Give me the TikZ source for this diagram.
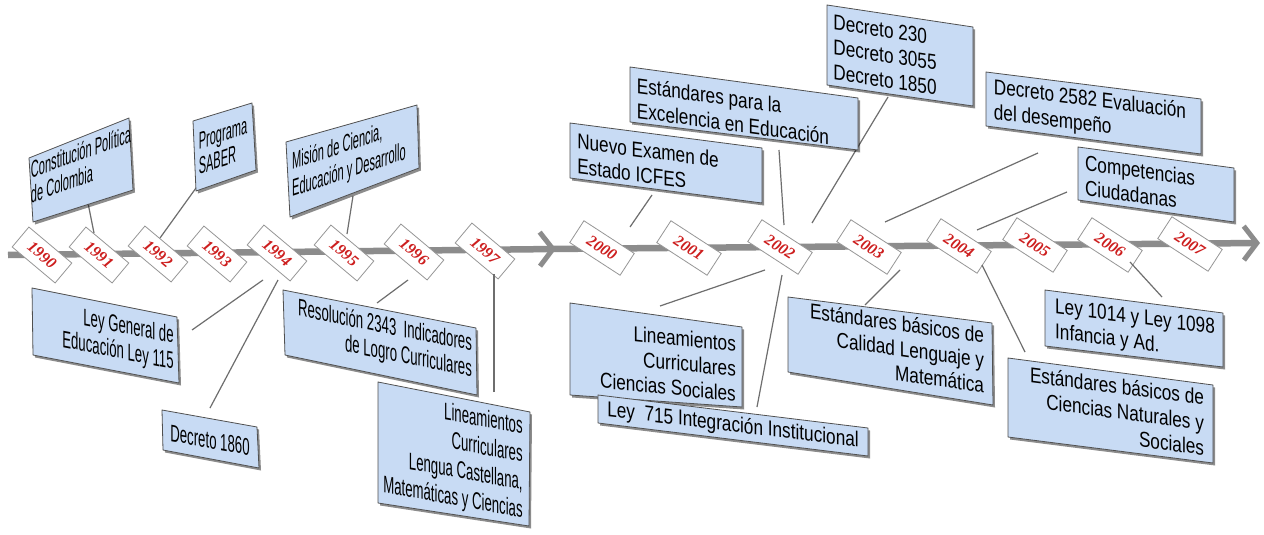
\documentclass[tikz,border=0pt]{standalone}
\usepackage{fontspec}
\setmainfont{Liberation Sans}
\newfontfamily\fTL[FakeStretch=0.46]{Liberation Sans}
\newfontfamily\fBL[FakeStretch=0.55]{Liberation Sans}
\newfontfamily\fRR[FakeStretch=0.8]{Liberation Sans}
\newfontfamily\fYear{Liberation Serif}
\usetikzlibrary{arrows.meta,shadows}
\definecolor{boxfill}{RGB}{200,219,244}
\definecolor{boxline}{RGB}{80,80,80}
\definecolor{axisgray}{RGB}{140,140,140}
\definecolor{conngray}{RGB}{110,110,110}
\definecolor{yearred}{RGB}{205,30,30}
\definecolor{tagline}{RGB}{150,150,150}
\tikzset{
  pbox/.style={fill=boxfill, draw=boxline, line width=0.8pt, line join=round,
    drop shadow={shadow xshift=2pt, shadow yshift=-2.5pt, opacity=0.45, fill=black}},
  txtTL/.style={inner sep=0pt, align=left, font=\fTL\fontsize{24}{25}\selectfont},
  txtBL/.style={inner sep=0pt, align=right, font=\fBL\fontsize{24}{26}\selectfont},
  txtR/.style={inner sep=0pt, font=\fRR\fontsize{21.5}{25}\selectfont},
  tag/.style={draw=tagline, fill=white, line width=0.8pt, minimum width=56pt,
    minimum height=26pt, inner sep=0pt, text=yearred,
    font=\fYear\bfseries\itshape\fontsize{16}{16}\selectfont},
  tagL/.style={tag, rotate=-40},
  tagR/.style={tag, rotate=-33, minimum width=60pt},
  conn/.style={draw=conngray, line width=1.2pt},
  axisline/.style={draw=axisgray, line width=6.5pt,
    -{Straight Barb[length=13pt,width=34pt,line width=5pt]}}
}
\begin{document}
\begin{tikzpicture}[x=1pt,y=-1pt]
\useasboundingbox (0,0) rectangle (1264,535);
\fill[white] (0,0) rectangle (1264,535);

% axis
\coordinate (ax0) at (8,255);
\coordinate (ax1) at (556,249);
\coordinate (ax2) at (548,249);
\coordinate (ax3) at (1260,243);
\draw[axisline] (ax0) -- (ax1);
\draw[axisline] (ax2) -- (ax3);

% year tags
\foreach \yr/\x/\y in {1990/42/255, 1991/99/255, 1992/158/254, 1993/217/254,
  1994/277/253, 1995/344/253, 1996/414/252, 1997/485/251}
  \node[tagL] (t\yr) at (\x,\y) {\yr};
\foreach \yr/\x/\y in {2000/602/248, 2001/689/248, 2002/780/247, 2003/869/247,
  2004/959/246, 2005/1035/245, 2006/1110/245, 2007/1190/244}
  \node[tagR] (t\yr) at (\x,\y) {\yr};

% connectors
\coordinate (c1a) at (88,203);   \coordinate (c1b) at (94,233);
\coordinate (c2a) at (196,188);  \coordinate (c2b) at (160,238);
\coordinate (c3a) at (353,196);  \coordinate (c3b) at (347,234);
\coordinate (c4a) at (192,330);  \coordinate (c4b) at (263,280);
\coordinate (c5a) at (210,408);  \coordinate (c5b) at (278,280);
\coordinate (c6a) at (377,303);  \coordinate (c6b) at (408,280);
\coordinate (c7a) at (494,392);  \coordinate (c7b) at (494,274);
\coordinate (c8a) at (652,195);  \coordinate (c8b) at (630,227);
\coordinate (c9a) at (779,150);  \coordinate (c9b) at (784,225);
\coordinate (c10a) at (888,97);  \coordinate (c10b) at (812,223);
\coordinate (c11a) at (1038,153); \coordinate (c11b) at (885,222);
\coordinate (c12a) at (1067,192); \coordinate (c12b) at (977,230);
\coordinate (c13a) at (660,306); \coordinate (c13b) at (765,270);
\coordinate (c14a) at (757,407); \coordinate (c14b) at (782,275);
\coordinate (c15a) at (865,305); \coordinate (c15b) at (900,270);
\coordinate (c16a) at (1025,352); \coordinate (c16b) at (982,265);
\coordinate (c17a) at (1162,297); \coordinate (c17b) at (1130,262);
\foreach \i in {1,...,17} \draw[conn] (c\i a) -- (c\i b);

% upper left boxes
\draw[pbox] (29,158) -- (129,118) -- (133,190) -- (33,222) -- cycle;
\node[txtTL, yslant=0.36] (bConst) at (81,164) {Constitución Política\\de Colombia};
\draw[pbox] (193,121) -- (252,103) -- (256,170) -- (196,191) -- cycle;
\node[txtTL, yslant=0.33] (bSaber) at (223,146) {Programa\\SABER};
\draw[pbox] (286,142) -- (417,105) -- (419,168) -- (290,217) -- cycle;
\node[txtTL, yslant=0.33, font=\fTL\fontsize{24}{27}\selectfont] (bMision) at (349,158) {Misión de Ciencia,\\Educación y Desarrollo};

% upper right boxes
\draw[pbox] (570,123) -- (762,148) -- (762,203) -- (570,178) -- cycle;
\node[txtR, align=left, yslant=-0.13] (bNuevo) at (648,163) {Nuevo Examen de\\Estado ICFES};
\draw[pbox] (630,67) -- (858,98) -- (858,150) -- (630,122) -- cycle;
\node[txtR, align=left, yslant=-0.136] (bExcel) at (733,111) {Estándares para la\\Excelencia en Educación};
\draw[pbox] (827,5) -- (973,27) -- (973,106) -- (827,85) -- cycle;
\node[txtR, align=left, yslant=-0.15] (bDec230) at (885,55) {Decreto 230\\Decreto 3055\\Decreto 1850};
\draw[pbox] (986,72) -- (1201,99) -- (1201,154) -- (986,126) -- cycle;
\node[txtR, align=left, yslant=-0.126] (bDec2582) at (1090,113) {Decreto 2582 Evaluación\\del desempeño};
\draw[pbox] (1078,147) -- (1234,168) -- (1234,222) -- (1078,200) -- cycle;
\node[txtR, align=left, yslant=-0.135] (bCompet) at (1140,183) {Competencias\\Ciudadanas};

% lower left boxes
\draw[pbox] (32,288) -- (177,317) -- (179,383) -- (33,355) -- cycle;
\node[txtBL, yslant=-0.2] (bLeyGen) at (118,339) {Ley General de\\Educación Ley 115};
\draw[pbox] (162,410) -- (257,427) -- (259,468) -- (163,450) -- cycle;
\node[txtBL, yslant=-0.18] (bDec1860) at (210,440) {Decreto 1860};
\draw[pbox] (283,290) -- (476,328) -- (477,395) -- (285,355) -- cycle;
\node[txtBL, yslant=-0.2] (bResol) at (385,340) {Resolución 2343\ \ Indicadores\\de Logro Curriculares};
\draw[pbox] (378,382) -- (530,412) -- (529,526) -- (378,503) -- cycle;
\node[txtBL, yslant=-0.18, font=\fBL\fontsize{24}{28}\selectfont] (bLinLeng) at (453,457) {Lineamientos\\Curriculares\\Lengua Castellana,\\Matemáticas y Ciencias};

% lower right boxes
\draw[pbox] (570,303) -- (742,327) -- (742,407) -- (570,395) -- cycle;
\node[txtR, align=right, yslant=-0.1] (bLinCS) at (668,362) {Lineamientos\\Curriculares\\Ciencias Sociales};
\draw[pbox] (598,395) -- (868,428) -- (868,456) -- (598,423) -- cycle;
\node[txtR, yslant=-0.122] (bLey715) at (733,426) {Ley\ \ 715 Integración Institucional};
\draw[pbox] (788,297) -- (992,323) -- (993,405) -- (788,372) -- cycle;
\node[txtR, align=right, yslant=-0.14] (bCalidad) at (897,348) {Estándares básicos de\\Calidad Lenguaje y\\Matemática};
\draw[pbox] (1045,290) -- (1223,313) -- (1223,367) -- (1045,346) -- cycle;
\node[txtR, align=left, yslant=-0.13] (bLey1014) at (1135,331) {Ley 1014 y Ley 1098\\Infancia y Ad.};
\draw[pbox] (1008,358) -- (1213,385) -- (1213,463) -- (1008,437) -- cycle;
\node[txtR, align=right, yslant=-0.13] (bNatur) at (1117,411) {Estándares básicos de\\Ciencias Naturales y\\Sociales};
\end{tikzpicture}
\end{document}
